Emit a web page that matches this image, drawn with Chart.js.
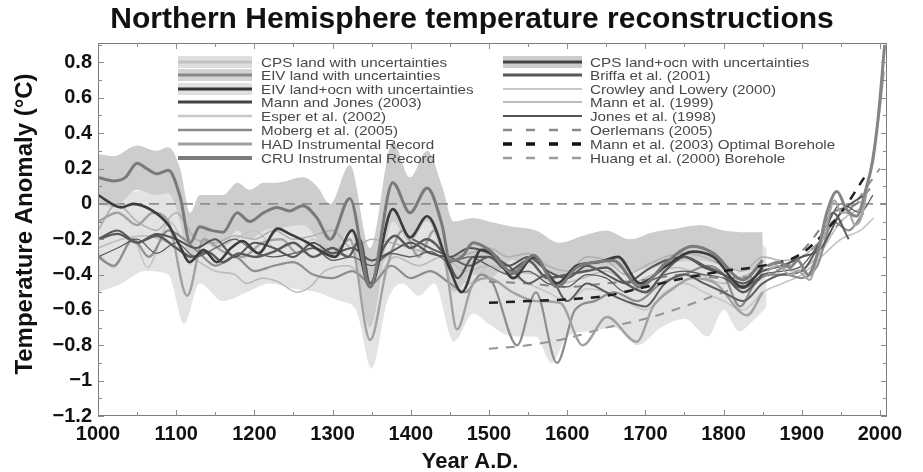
<!DOCTYPE html>
<html><head><meta charset="utf-8">
<script src="https://cdn.jsdelivr.net/npm/chart.js@4.4.0/dist/chart.umd.min.js"></script>
<style>html,body{margin:0;padding:0;background:#fff;}#wrap{width:923px;height:472px;position:relative;}</style>
</head><body><div id="wrap"><canvas id="c" width="923" height="472"></canvas></div>
<script>
// ---------- DATA ----------
const xTickYears = [1000,1100,1200,1300,1400,1500,1600,1700,1800,1900,2000];
const yTickValues = [-1.2,-1,-0.8,-0.6,-0.4,-0.2,0,0.2,0.4,0.6,0.8];

const yrsCPSband = [1000,1030,1060,1090,1110,1130,1160,1190,1220,1250,1280,1310,1330,1350,1370,1390,1410,1430,1455,1480,1500,1530,1560,1580,1600,1630,1660,1690,1720,1750,1780,1800,1820,1840,1855];
const cpsLandUpper = [0.02,0.05,0.08,0.08,-0.1,-0.05,-0.08,-0.05,-0.02,0.0,-0.02,-0.1,-0.05,-0.35,-0.05,0.05,-0.05,0.05,-0.25,-0.15,-0.18,-0.2,-0.25,-0.3,-0.28,-0.22,-0.28,-0.25,-0.2,-0.22,-0.3,-0.25,-0.22,-0.2,-0.25];
const cpsLandLower = [-0.5,-0.45,-0.38,-0.4,-0.68,-0.45,-0.55,-0.5,-0.45,-0.48,-0.5,-0.55,-0.6,-0.93,-0.55,-0.45,-0.52,-0.45,-0.78,-0.62,-0.68,-0.75,-0.75,-0.9,-0.75,-0.72,-0.7,-0.8,-0.7,-0.65,-0.75,-0.6,-0.72,-0.65,-0.58];

const yrsEIVband = [1000,1020,1050,1075,1090,1105,1118,1130,1160,1178,1194,1212,1229,1262,1280,1297,1322,1348,1377,1399,1421,1440,1455,1480,1500,1530,1560,1590,1620,1650,1680,1710,1740,1770,1800,1830,1850];
const eivLandUpper = [0.28,0.27,0.33,0.3,0.32,0.2,-0.05,0.05,0.05,0.12,0.08,0.12,0.12,0.15,0.1,0.0,0.22,-0.25,0.35,0.15,0.3,0.1,-0.1,-0.08,-0.1,-0.13,-0.15,-0.22,-0.18,-0.15,-0.2,-0.16,-0.14,-0.12,-0.15,-0.16,-0.16];
const eivLandLower = [0.0,-0.02,0.08,0.05,0.06,-0.1,-0.35,-0.22,-0.25,-0.15,-0.2,-0.15,-0.14,-0.12,-0.2,-0.32,-0.15,-0.7,-0.1,-0.22,-0.1,-0.3,-0.5,-0.4,-0.42,-0.32,-0.35,-0.4,-0.38,-0.35,-0.38,-0.36,-0.33,-0.32,-0.35,-0.38,-0.35];

const yrsEIVland = [1000,1020,1035,1050,1062,1075,1090,1105,1118,1130,1145,1160,1178,1194,1212,1229,1245,1262,1280,1297,1322,1348,1377,1399,1421,1440,1450,1465,1480,1500,1531,1557,1587,1612,1635,1659,1693,1727,1761,1787,1825,1850];
const eivLand = [0.15,0.13,0.15,0.23,0.2,0.17,0.19,0.04,-0.22,-0.13,-0.15,-0.16,-0.05,-0.1,-0.05,-0.02,-0.04,-0.01,-0.08,-0.2,0.03,-0.47,0.12,-0.05,0.09,-0.12,-0.32,-0.3,-0.22,-0.26,-0.39,-0.29,-0.47,-0.36,-0.33,-0.32,-0.47,-0.33,-0.24,-0.28,-0.43,-0.32];

const yrsEIVlo = [1000,1030,1045,1070,1090,1105,1117,1135,1152,1170,1185,1205,1230,1245,1268,1290,1303,1325,1348,1377,1399,1421,1450,1465,1490,1510,1531,1557,1587,1612,1640,1665,1693,1727,1761,1787,1825,1850];
const eivLandOcn = [0.05,-0.02,0.0,-0.04,-0.12,-0.24,-0.33,-0.26,-0.33,-0.25,-0.21,-0.28,-0.14,-0.17,-0.22,-0.28,-0.3,-0.15,-0.47,-0.03,-0.19,-0.07,-0.37,-0.5,-0.26,-0.3,-0.42,-0.3,-0.45,-0.35,-0.33,-0.3,-0.45,-0.35,-0.27,-0.3,-0.47,-0.36];

const yrsCPSlo = [1000,1025,1050,1075,1100,1120,1140,1160,1180,1200,1225,1250,1275,1300,1320,1335,1348,1365,1380,1400,1420,1445,1460,1480,1500,1525,1550,1575,1600,1625,1650,1675,1700,1725,1750,1775,1800,1825,1850];
const cpsLandOcn = [-0.2,-0.17,-0.22,-0.18,-0.25,-0.3,-0.27,-0.33,-0.28,-0.3,-0.27,-0.22,-0.3,-0.25,-0.3,-0.2,-0.45,-0.25,-0.18,-0.25,-0.2,-0.3,-0.42,-0.3,-0.3,-0.38,-0.32,-0.42,-0.4,-0.38,-0.36,-0.45,-0.5,-0.38,-0.3,-0.35,-0.4,-0.5,-0.4];

const yrsCPSland = [1000,1025,1050,1070,1090,1114,1135,1160,1185,1210,1235,1255,1275,1300,1322,1348,1370,1390,1410,1430,1445,1459,1480,1500,1530,1560,1591,1620,1651,1689,1710,1735,1760,1790,1830,1850];
const cpsLand = [-0.1,-0.05,-0.12,-0.05,-0.1,-0.52,-0.2,-0.27,-0.3,-0.22,-0.2,-0.28,-0.25,-0.28,-0.2,-0.77,-0.35,-0.15,-0.3,-0.15,-0.35,-0.71,-0.45,-0.42,-0.5,-0.55,-0.56,-0.8,-0.64,-0.78,-0.58,-0.48,-0.42,-0.45,-0.63,-0.5];

const yrsMoberg = [1000,1020,1045,1065,1090,1110,1130,1150,1175,1200,1225,1250,1275,1300,1325,1350,1375,1400,1425,1450,1470,1490,1505,1536,1560,1587,1610,1635,1660,1690,1720,1750,1780,1800,1821,1840,1860,1880,1900,1920,1940,1960,1979];
const moberg = [-0.3,-0.35,-0.2,-0.3,-0.15,-0.2,-0.28,-0.35,-0.3,-0.38,-0.35,-0.33,-0.4,-0.42,-0.38,-0.45,-0.35,-0.42,-0.38,-0.45,-0.5,-0.4,-0.45,-0.8,-0.5,-0.9,-0.6,-0.55,-0.5,-0.55,-0.45,-0.4,-0.35,-0.4,-0.58,-0.45,-0.4,-0.4,-0.42,-0.35,-0.1,-0.15,-0.05];

const yrsMannJones = [1000,1025,1050,1075,1100,1125,1150,1175,1200,1225,1250,1275,1300,1325,1350,1375,1400,1425,1450,1475,1500,1525,1550,1575,1600,1625,1650,1675,1700,1725,1750,1775,1800,1825,1850,1875,1900,1925,1950,1980];
const mannJones = [-0.2,-0.15,-0.22,-0.17,-0.2,-0.25,-0.2,-0.3,-0.22,-0.25,-0.3,-0.22,-0.28,-0.25,-0.32,-0.27,-0.22,-0.28,-0.3,-0.25,-0.28,-0.35,-0.3,-0.38,-0.42,-0.35,-0.4,-0.45,-0.38,-0.32,-0.3,-0.36,-0.4,-0.45,-0.38,-0.35,-0.3,-0.25,-0.05,0.05];

const yrsEsper = [1000,1020,1045,1063,1092,1110,1130,1150,1175,1200,1225,1250,1275,1300,1325,1350,1375,1400,1425,1450,1475,1500,1525,1550,1575,1600,1625,1650,1675,1700,1725,1750,1775,1800,1825,1850,1875,1900,1925,1950,1975,1992];
const esper = [-0.28,-0.36,-0.2,-0.36,-0.1,-0.2,-0.15,-0.25,-0.2,-0.15,-0.25,-0.3,-0.2,-0.28,-0.3,-0.4,-0.28,-0.3,-0.2,-0.35,-0.45,-0.35,-0.4,-0.45,-0.5,-0.55,-0.48,-0.5,-0.55,-0.6,-0.5,-0.45,-0.5,-0.55,-0.6,-0.5,-0.45,-0.4,-0.3,-0.2,-0.15,-0.08];

const yrsCrowley = [1000,1030,1060,1090,1120,1150,1175,1190,1210,1230,1255,1271,1290,1320,1350,1380,1410,1440,1470,1500,1530,1560,1590,1620,1650,1680,1710,1740,1770,1800,1830,1860,1890,1920,1950,1987];
const crowley = [-0.25,-0.2,-0.18,-0.22,-0.3,-0.38,-0.4,-0.45,-0.42,-0.44,-0.5,-0.47,-0.38,-0.35,-0.45,-0.3,-0.35,-0.3,-0.38,-0.35,-0.38,-0.4,-0.45,-0.42,-0.38,-0.45,-0.4,-0.36,-0.4,-0.45,-0.4,-0.35,-0.38,-0.3,-0.1,0.0];

const yrsMann99 = [1000,1024,1050,1075,1100,1125,1150,1175,1200,1225,1250,1275,1300,1325,1350,1375,1400,1425,1450,1475,1500,1525,1550,1575,1600,1625,1650,1675,1700,1725,1750,1775,1800,1825,1850,1875,1900,1925,1950,1980];
const mann99 = [-0.15,0.0,-0.1,-0.15,-0.05,-0.2,-0.22,-0.18,-0.2,-0.15,-0.2,-0.18,-0.15,-0.25,-0.2,-0.22,-0.25,-0.28,-0.3,-0.28,-0.25,-0.3,-0.28,-0.35,-0.38,-0.3,-0.32,-0.4,-0.35,-0.3,-0.28,-0.3,-0.35,-0.38,-0.3,-0.32,-0.3,-0.2,-0.05,0.02];

const yrsJones98 = [1000,1025,1050,1075,1100,1125,1150,1175,1200,1225,1250,1275,1300,1325,1350,1375,1400,1425,1450,1475,1500,1525,1550,1575,1600,1625,1650,1675,1700,1725,1750,1775,1800,1825,1850,1875,1900,1925,1950,1975,1991];
const jones98 = [-0.3,-0.25,-0.2,-0.28,-0.22,-0.3,-0.25,-0.2,-0.27,-0.3,-0.28,-0.25,-0.32,-0.3,-0.35,-0.28,-0.3,-0.27,-0.33,-0.3,-0.35,-0.4,-0.38,-0.45,-0.47,-0.4,-0.42,-0.5,-0.45,-0.4,-0.38,-0.4,-0.42,-0.48,-0.4,-0.38,-0.35,-0.2,0.0,-0.05,0.05];

const yrsBriffa = [1402,1425,1450,1475,1500,1525,1550,1575,1600,1625,1650,1675,1700,1725,1750,1775,1800,1825,1850,1875,1900,1925,1940,1960];
const briffa = [-0.2,-0.25,-0.3,-0.35,-0.3,-0.35,-0.45,-0.4,-0.55,-0.45,-0.5,-0.55,-0.58,-0.45,-0.4,-0.45,-0.5,-0.55,-0.45,-0.4,-0.38,-0.2,-0.05,-0.2];

const yrsHAD = [1856,1870,1885,1895,1910,1920,1930,1942,1950,1960,1968,1976,1985,1992,2000,2005];
const had = [-0.38,-0.35,-0.4,-0.38,-0.43,-0.3,-0.15,0.02,-0.05,-0.05,-0.12,-0.08,0.12,0.3,0.55,0.75];

const yrsCRU = [1856,1870,1885,1895,1908,1920,1932,1945,1957,1970,1983,1991,1998,2006];
const cru = [-0.35,-0.33,-0.36,-0.32,-0.4,-0.28,-0.05,0.07,-0.03,-0.07,0.1,0.25,0.5,0.9];

const yrsOerlemans = [1500,1550,1600,1650,1700,1750,1800,1850,1880,1910,1940,1970,1990];
const oerlemans = [-0.44,-0.45,-0.47,-0.45,-0.43,-0.4,-0.42,-0.4,-0.35,-0.22,-0.05,0.0,0.1];

const yrsMannBore = [1500,1550,1600,1650,1700,1750,1800,1850,1900,1950,1980];
const mannBorehole = [-0.56,-0.55,-0.54,-0.52,-0.47,-0.42,-0.38,-0.35,-0.28,-0.05,0.15];

const yrsHuang = [1500,1550,1600,1650,1700,1750,1800,1850,1900,1950,2000];
const huangBorehole = [-0.82,-0.8,-0.76,-0.7,-0.65,-0.58,-0.5,-0.42,-0.3,-0.1,0.2];

const yrsZero = [1000,2009];
const zeroLine = [0,0];

// ---------- BUILD ----------
const pts = (xs, ys) => xs.map((x, i) => ({x: x, y: ys[i]}));
function line(label, xs, ys, color, width, order, dash) {
  return {label, data: pts(xs, ys), borderColor: color, borderWidth: width, borderDash: dash || [],
    pointRadius: 0, fill: false, cubicInterpolationMode: 'monotone', order: order, borderJoinStyle: 'round', borderCapStyle: 'butt'};
}
function band(label, xs, ys, color, order, fillTarget) {
  return {label, data: pts(xs, ys), borderWidth: 0, borderColor: 'rgba(0,0,0,0)', backgroundColor: color,
    pointRadius: 0, fill: fillTarget, cubicInterpolationMode: 'monotone', order: order};
}

const datasets = [
  band('CPS upper', yrsCPSband, cpsLandUpper, '#e3e3e3', 100, '+1'),
  band('CPS lower', yrsCPSband, cpsLandLower, '#e3e3e3', 100, false),
  band('EIV upper', yrsEIVband, eivLandUpper, '#cdcdcd', 90, '+1'),
  band('EIV lower', yrsEIVband, eivLandLower, '#cdcdcd', 90, false),
  line('zero', yrsZero, zeroLine, '#8e8e8e', 1.6, 80, [10, 7]),
  line('Crowley and Lowery (2000)', yrsCrowley, crowley, '#bcbcbc', 1.6, 20),
  line('Esper et al. (2002)', yrsEsper, esper, '#c6c6c6', 1.6, 20),
  line('Mann et al. (1999)', yrsMann99, mann99, '#b2b2b2', 1.6, 19),
  line('Huang et al. (2000) Borehole', yrsHuang, huangBorehole, '#959595', 2, 18, [9, 8]),
  line('Oerlemans (2005)', yrsOerlemans, oerlemans, '#858585', 2, 18, [9, 8]),
  line('Moberg et al. (2005)', yrsMoberg, moberg, '#8d8d8d', 2.2, 17),
  line('CPS land with uncertainties', yrsCPSland, cpsLand, '#a2a2a2', 2.4, 16),
  line('Jones et al. (1998)', yrsJones98, jones98, '#5a5a5a', 1.2, 15),
  line('Briffa et al. (2001)', yrsBriffa, briffa, '#5e5e5e', 2, 14),
  line('Mann and Jones (2003)', yrsMannJones, mannJones, '#555555', 2, 13),
  line('CPS land+ocn with uncertainties', yrsCPSlo, cpsLandOcn, '#5a5a5a', 2.4, 12),
  line('EIV land+ocn with uncertainties', yrsEIVlo, eivLandOcn, '#3c3c3c', 2.6, 11),
  line('EIV land with uncertainties', yrsEIVland, eivLand, '#7a7a7a', 3, 10),
  line('Mann et al. (2003) Optimal Borehole', yrsMannBore, mannBorehole, '#1e1e1e', 2.5, 9, [9, 8]),
  line('HAD Instrumental Record', yrsHAD, had, '#a6a6a6', 2.2, 8),
  line('CRU Instrumental Record', yrsCRU, cru, '#858585', 3, 7)
];

const legendLeft = [
  {t:'CPS land with uncertainties', band:'#dedede', c:'#c2c2c2', w:3},
  {t:'EIV land with uncertainties', band:'#d4d4d4', c:'#888888', w:3},
  {t:'EIV land+ocn with uncertainties', band:'#e0e0e0', c:'#333333', w:3},
  {t:'Mann and Jones (2003)', c:'#444444', w:3},
  {t:'Esper et al. (2002)', c:'#c8c8c8', w:2.5},
  {t:'Moberg et al. (2005)', c:'#8a8a8a', w:2.5},
  {t:'HAD Instrumental Record', c:'#a0a0a0', w:3},
  {t:'CRU Instrumental Record', c:'#7c7c7c', w:4}
];
const legendRight = [
  {t:'CPS land+ocn with uncertainties', band:'#cccccc', c:'#444444', w:3},
  {t:'Briffa et al. (2001)', c:'#555555', w:3},
  {t:'Crowley and Lowery (2000)', c:'#c8c8c8', w:2},
  {t:'Mann et al. (1999)', c:'#bdbdbd', w:2},
  {t:'Jones et al. (1998)', c:'#555555', w:2},
  {t:'Oerlemans (2005)', c:'#8a8a8a', w:2.5, dash:[9,14]},
  {t:'Mann et al. (2003) Optimal Borehole', c:'#111111', w:3.5, dash:[9,14]},
  {t:'Huang et al. (2000) Borehole', c:'#9a9a9a', w:2.5, dash:[9,14]}
];
const legendRowsY = [62, 75, 89, 102, 116, 130, 144, 158];

function stretchedText(ctx, text, x, y, sx, align) {
  ctx.save(); ctx.translate(x, y); ctx.scale(sx, 1); ctx.textAlign = align; ctx.fillText(text, 0, 0); ctx.restore();
}

const decorPlugin = {
  id: 'decor',
  afterDatasetsDraw(chart) {
    const ctx = chart.ctx, a = chart.chartArea, xs = chart.scales.x, ys = chart.scales.y;
    ctx.save();
    ctx.strokeStyle = '#7a7a7a'; ctx.lineWidth = 1;
    ctx.strokeRect(a.left + 0.5, a.top + 0.5, a.right - a.left - 1, a.bottom - a.top - 1);
    ctx.strokeStyle = '#8a8a8a';
    ctx.beginPath();
    for (let yr = 1000; yr <= 2000; yr += 50) {
      const px = Math.round(xs.getPixelForValue(yr)) + 0.5;
      const len = (yr % 100 === 0) ? 6 : 4;
      ctx.moveTo(px, a.bottom); ctx.lineTo(px, a.bottom - len);
      ctx.moveTo(px, a.top); ctx.lineTo(px, a.top + len);
    }
    for (let k = -12; k <= 9; k++) {
      const py = Math.round(ys.getPixelForValue(k / 10)) + 0.5;
      const len = (k % 2 === 0) ? 6 : 4;
      ctx.moveTo(a.left, py); ctx.lineTo(a.left + len, py);
      ctx.moveTo(a.right, py); ctx.lineTo(a.right - len, py);
    }
    ctx.stroke();
    const cols = [{items: legendLeft, x0: 178, x1: 252, tx: 261}, {items: legendRight, x0: 503, x1: 582, tx: 590}];
    ctx.font = '13px "Liberation Sans", Arial, sans-serif';
    ctx.textBaseline = 'middle';
    cols.forEach(col => {
      col.items.forEach((it, i) => {
        const y = legendRowsY[i];
        if (it.band) { ctx.fillStyle = it.band; ctx.fillRect(col.x0, y - 6, col.x1 - col.x0, 12); }
        ctx.strokeStyle = it.c; ctx.lineWidth = it.w; ctx.setLineDash(it.dash || []);
        ctx.beginPath(); ctx.moveTo(col.x0, y); ctx.lineTo(col.x1, y); ctx.stroke();
        ctx.setLineDash([]);
        ctx.fillStyle = '#484848';
        stretchedText(ctx, it.t, col.tx, y + 1, 1.17, 'left');
      });
    });
    ctx.restore();
  },
  afterDraw(chart) {
    const ctx = chart.ctx;
    ctx.save();
    ctx.fillStyle = '#111';
    ctx.textBaseline = 'alphabetic';
    ctx.font = 'bold 30px "Liberation Sans", Arial, sans-serif';
    stretchedText(ctx, 'Northern Hemisphere temperature reconstructions', 472, 28, 1, 'center');
    ctx.font = 'bold 22px "Liberation Sans", Arial, sans-serif';
    stretchedText(ctx, 'Year A.D.', 470, 468, 1, 'center');
    ctx.translate(32, 224); ctx.rotate(-Math.PI / 2);
    ctx.font = 'bold 24px "Liberation Sans", Arial, sans-serif';
    ctx.textAlign = 'center';
    ctx.fillText('Temperature Anomaly (\u00B0C)', 0, 0);
    ctx.restore();
  }
};

new Chart(document.getElementById('c'), {
  type: 'line',
  data: {datasets},
  options: {
    responsive: false, animation: false, devicePixelRatio: 1,
    layout: {padding: {top: 43, right: 36, left: 0, bottom: 0}},
    plugins: {legend: {display: false}, tooltip: {enabled: false}, title: {display: false}},
    scales: {
      x: {type: 'linear', min: 1000, max: 2009,
        afterFit: s => { s.height = 56; },
        afterBuildTicks: s => { s.ticks = xTickYears.map(v => ({value: v})); },
        grid: {display: false, drawTicks: false}, border: {display: false},
        ticks: {padding: 6, color: '#111', font: {family: '"Liberation Sans", Arial', weight: 'bold', size: 20},
          maxRotation: 0, autoSkip: false, callback: v => String(v)}},
      y: {type: 'linear', min: -1.2, max: 0.91,
        afterFit: s => { s.width = 98; },
        afterBuildTicks: s => { s.ticks = yTickValues.map(v => ({value: v})); },
        grid: {display: false, drawTicks: false}, border: {display: false},
        ticks: {padding: 6, color: '#111', font: {family: '"Liberation Sans", Arial', weight: 'bold', size: 20},
          autoSkip: false,
          callback: v => { const r = Math.round(v * 10) / 10; if (r === 0) return '0'; return (r < 0 ? '\u2212' : '') + Math.abs(r).toString(); }}}
    }
  },
  plugins: [decorPlugin]
});
</script></body></html>
